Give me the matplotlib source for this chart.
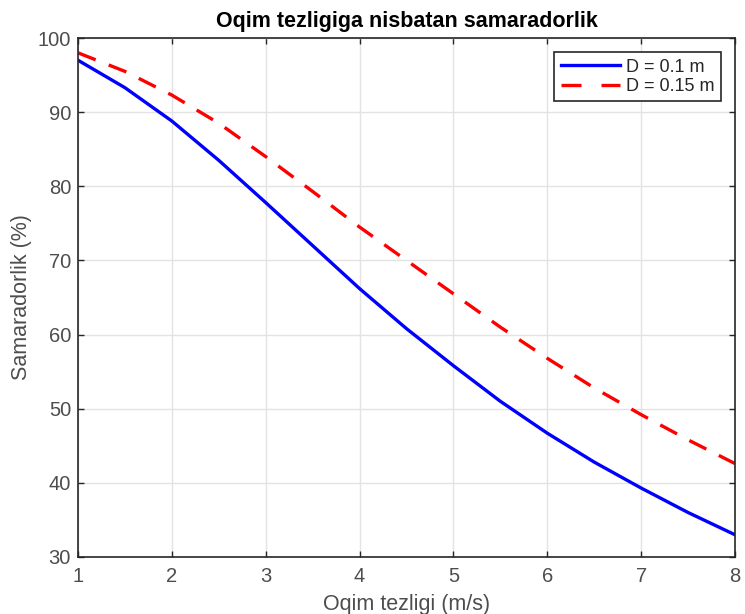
import matplotlib
matplotlib.use("Agg")
import matplotlib.pyplot as plt
from matplotlib.lines import Line2D

plt.rcParams['font.family'] = ['Liberation Sans', 'DejaVu Sans']

velocity = [1, 1.5, 2, 2.5, 3, 3.5, 4, 4.5, 5, 5.5, 6, 6.5, 7, 7.5, 8]
eff_d010 = [97.0, 93.3, 88.8, 83.5, 77.8, 72.0, 66.2, 60.8, 55.8, 51.0, 46.7, 42.8, 39.3, 36.0, 33.0]
eff_d015 = [98.0, 95.5, 92.3, 88.5, 84.0, 79.3, 74.5, 70.0, 65.5, 61.0, 56.8, 52.8, 49.2, 45.8, 42.6]
labels = ['D = 0.1 m', 'D = 0.15 m']
xticks = [1, 2, 3, 4, 5, 6, 7, 8]
yticks = [30, 40, 50, 60, 70, 80, 90, 100]

LW = 2.4
fig = plt.figure(figsize=(7.45, 6.14), dpi=100)
ax = fig.add_axes([78/745, 1-557/614, (735-78)/745, (557-38)/614])

ax.plot(velocity, eff_d010, color='#0000ff', lw=LW, label=labels[0])
ax.plot(velocity, eff_d015, color='#ff0000', lw=LW, ls=(0, (5.7, 4.2)), label=labels[1])

ax.set_xlim(1, 8)
ax.set_ylim(30, 100)
ax.set_xticks(xticks)
ax.set_yticks(yticks)
ax.grid(True, color='#e3e3e3', lw=1)
ax.set_axisbelow(True)
for s in ax.spines.values():
    s.set_color('#262626')
    s.set_linewidth(1.2)
ax.tick_params(direction='in', top=True, right=True, length=4, width=1,
               color='#262626', labelcolor='#4d4d4d', labelsize=14.5, pad=5)
ax.tick_params(axis='x', pad=7)

ax.set_title('Oqim tezligiga nisbatan samaradorlik', fontsize=15.5, fontweight='bold', pad=8)
ax.set_xlabel('Oqim tezligi (m/s)', fontsize=15.5, color='#4d4d4d')
ax.set_ylabel('Samaradorlik (%)', fontsize=15.5, color='#4d4d4d')
ax.xaxis.set_label_coords(0.5, -0.071)
ax.yaxis.set_label_coords(-0.07, 0.5)

handles = [Line2D([], [], color='#0000ff', lw=LW),
           Line2D([], [], color='#ff0000', lw=LW, ls=(0, (6.0, 6.0)))]
leg = ax.legend(handles, labels, loc='upper right', fontsize=13, frameon=True, fancybox=False,
                edgecolor='#262626', framealpha=1, handlelength=3.3,
                borderaxespad=0.8, borderpad=0.35, labelspacing=0.12, handletextpad=0.3)
leg.get_frame().set_linewidth(1.2)
for t in leg.get_texts():
    t.set_color('#262626')

fig.savefig('out.png', dpi=100)
